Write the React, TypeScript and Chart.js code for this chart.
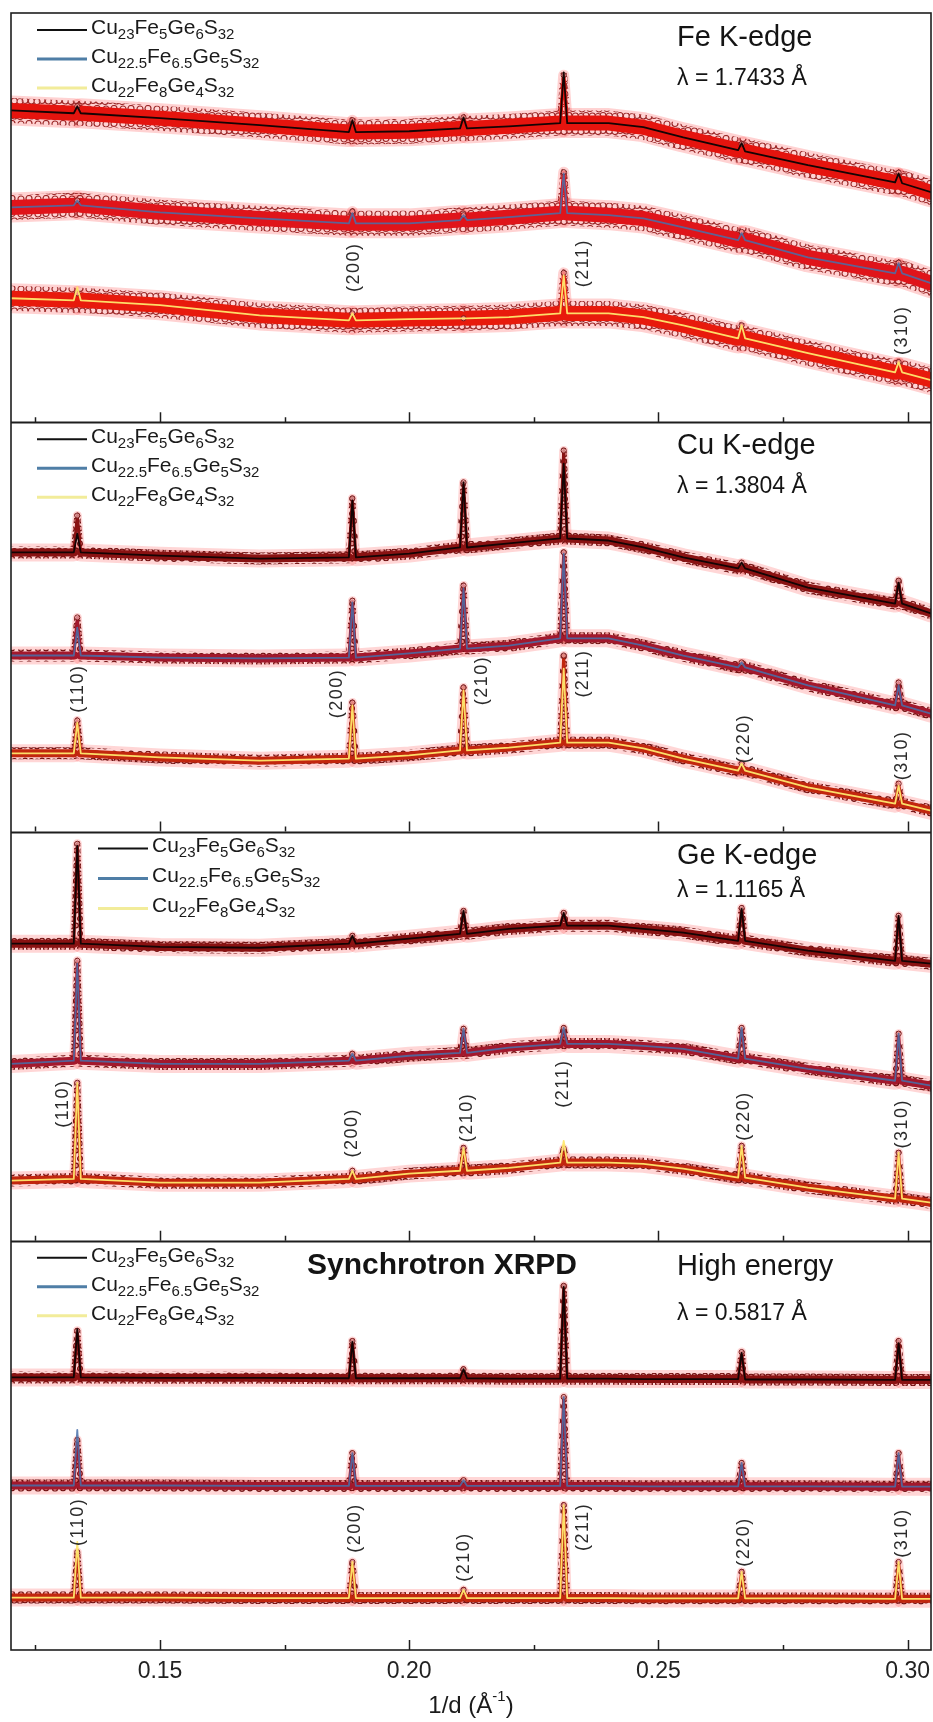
import { useEffect, useRef } from "react";
import { Chart, registerables } from "chart.js";
Chart.register(...registerables);

const FONT = '"Liberation Sans", Arial, Helvetica, sans-serif';

// 1/d grid (Å^-1): background points plus three points around every reflection
const X = [0.1201, 0.1327, 0.1334, 0.1341, 0.150, 0.170, 0.1879, 0.1886, 0.1893, 0.200, 0.2102, 0.2109, 0.2116, 0.220, 0.2303, 0.2310, 0.2317, 0.240, 0.247, 0.255, 0.2660, 0.2667, 0.2674, 0.280, 0.2975, 0.2982, 0.2989, 0.3047];
// indices of the reflection maxima in X: (110) (200) (210) (211) (220) (310)
const PEAK_INDEX = [2, 7, 11, 15, 21, 25];

const TICK_VALUES = [0.125, 0.15, 0.175, 0.2, 0.225, 0.25, 0.275, 0.3];
const TICK_LABELS = ["", "0.15", "", "0.20", "", "0.25", "", "0.30"];

const SAMPLES = [
  ["Cu", "23", "Fe", "5", "Ge", "6", "S", "32"],
  ["Cu", "22.5", "Fe", "6.5", "Ge", "5", "S", "32"],
  ["Cu", "22", "Fe", "8", "Ge", "4", "S", "32"],
];

const PANEL_TITLES = ["Fe K-edge", "Cu K-edge", "Ge K-edge", "High energy"];
const PANEL_WAVELENGTHS = ["λ = 1.7433 Å", "λ = 1.3804 Å", "λ = 1.1165 Å", "λ = 0.5817 Å"];

// intensities, in % of the panel height (calculated profile)
const feCalc1 = [76.2, 75.5, 77.2, 75.5, 74.3, 72.6, 70.9, 73.8, 70.9, 71.1, 71.8, 74.5, 71.8, 72.3, 73.1, 85.5, 73.1, 73.1, 72.1, 69.6, 66.5, 68.2, 66.2, 62.8, 58.6, 60.8, 58.4, 56.2];
const feCalc2 = [52.5, 53.0, 54.2, 53.0, 51.3, 49.8, 48.6, 51.1, 48.6, 48.6, 49.4, 50.6, 49.4, 50.1, 51.1, 60.8, 51.1, 50.6, 49.8, 47.6, 44.5, 46.2, 44.5, 40.3, 36.4, 38.9, 36.4, 34.0];
const feCalc3 = [30.3, 29.8, 33.0, 29.8, 28.6, 26.1, 24.9, 26.6, 24.9, 25.2, 25.4, 25.4, 25.4, 25.7, 26.6, 35.9, 26.6, 26.6, 25.7, 23.7, 20.5, 23.7, 20.5, 16.9, 12.2, 14.7, 12.2, 10.3];
// observed maxima of the reflections
const feObsTop1 = [77.2, 73.8, 74.5, 84.8, 68.0, 61.0];
const feObsTop2 = [54.2, 51.5, 50.6, 61.1, 46.5, 39.0];
const feObsTop3 = [31.5, 26.6, 25.4, 36.5, 23.7, 14.7];

const cuCalc1 = [68.2, 68.2, 72.8, 68.2, 67.4, 66.7, 67.0, 80.9, 67.0, 67.9, 69.4, 85.3, 69.4, 70.4, 71.6, 89.9, 71.6, 71.1, 69.4, 67.0, 64.3, 65.7, 64.3, 59.6, 55.7, 60.8, 55.7, 53.3];
const cuCalc2 = [43.0, 43.0, 49.8, 43.0, 42.5, 42.3, 42.5, 56.0, 42.5, 43.5, 44.7, 59.4, 44.7, 45.4, 47.2, 67.9, 47.2, 47.2, 45.4, 43.0, 40.1, 41.3, 40.1, 35.7, 30.8, 35.7, 30.8, 28.8];
const cuCalc3 = [19.1, 19.1, 26.6, 19.1, 18.1, 17.3, 17.8, 30.8, 17.8, 18.6, 19.8, 34.5, 19.8, 20.5, 21.7, 39.8, 21.7, 21.7, 20.3, 17.8, 14.9, 16.6, 14.9, 10.8, 6.8, 11.2, 6.8, 5.1];
const cuObsTop1 = [77.2, 81.4, 85.3, 93.1, 65.7, 61.3];
const cuObsTop2 = [52.3, 56.4, 60.1, 68.2, 41.3, 36.4];
const cuObsTop3 = [27.1, 31.5, 35.2, 43.0, 16.6, 11.7];

const geCalc1 = [72.6, 72.6, 96.5, 72.6, 71.8, 71.6, 72.6, 74.5, 72.6, 73.8, 75.0, 80.6, 75.0, 76.2, 77.0, 80.1, 77.0, 77.0, 76.2, 75.3, 73.3, 81.1, 73.3, 70.9, 68.4, 79.4, 68.4, 67.7];
const geCalc2 = [43.2, 44.0, 67.7, 44.0, 43.2, 43.2, 44.0, 45.7, 44.0, 45.2, 45.9, 51.8, 45.9, 47.2, 48.1, 52.0, 48.1, 48.1, 47.6, 46.9, 44.5, 52.0, 44.5, 42.0, 39.1, 50.6, 39.1, 37.9];
const geCalc3 = [14.7, 15.1, 38.6, 15.1, 14.2, 14.2, 15.1, 17.1, 15.1, 16.4, 17.1, 22.7, 17.1, 17.8, 19.1, 24.4, 19.1, 19.1, 18.8, 17.6, 15.4, 23.2, 15.4, 13.0, 10.3, 21.5, 10.3, 9.3];
const geObsTop1 = [97.0, 74.5, 80.6, 80.1, 81.3, 79.4];
const geObsTop2 = [68.4, 45.7, 51.8, 52.0, 52.0, 50.6];
const geObsTop3 = [38.6, 17.1, 22.7, 22.5, 23.2, 21.5];

const heCalc1 = [66.6, 66.6, 78.4, 66.6, 66.5, 66.5, 66.4, 75.3, 66.4, 66.4, 66.4, 68.6, 66.4, 66.3, 66.3, 88.7, 66.3, 66.3, 66.2, 66.2, 66.2, 72.6, 66.1, 66.1, 66.0, 75.0, 66.0, 66.0];
const heCalc2 = [40.2, 40.2, 53.8, 40.2, 40.2, 40.1, 40.1, 48.1, 40.1, 40.1, 40.1, 41.5, 40.1, 40.1, 40.1, 61.8, 40.1, 40.1, 40.0, 40.0, 40.0, 45.7, 40.0, 40.0, 39.9, 48.1, 39.9, 39.9];
const heCalc3 = [12.8, 12.8, 26.4, 12.8, 12.8, 12.7, 12.7, 21.5, 12.7, 12.7, 12.7, 14.7, 12.7, 12.7, 12.7, 35.4, 12.7, 12.7, 12.6, 12.6, 12.6, 19.1, 12.6, 12.6, 12.5, 21.5, 12.5, 12.5];
const heObsTop1 = [78.0, 75.5, 68.6, 89.0, 72.8, 75.5];
const heObsTop2 = [51.3, 48.1, 41.5, 61.8, 45.7, 48.1];
const heObsTop3 = [23.9, 21.5, 14.7, 35.4, 19.1, 21.5];

// reflection labels: [text, 1/d, height in % of panel]
const feLabels: [string, number, number][] = [["(200)", 0.1889, 37.9], ["(211)", 0.2349, 38.9], ["(310)", 0.2988, 22.5]];
const cuLabels: [string, number, number][] = [["(110)", 0.1336, 34.9], ["(200)", 0.1855, 33.7], ["(210)", 0.2147, 36.9], ["(211)", 0.2349, 38.6], ["(220)", 0.2672, 22.7], ["(310)", 0.2988, 18.6]];
const geLabels: [string, number, number][] = [["(110)", 0.1306, 33.5], ["(200)", 0.1885, 26.4], ["(210)", 0.2117, 30.1], ["(211)", 0.2309, 38.4], ["(220)", 0.2672, 30.5], ["(310)", 0.2988, 28.6]];
const heLabels: [string, number, number][] = [["(110)", 0.1336, 31.3], ["(200)", 0.1891, 29.8], ["(210)", 0.2111, 22.7], ["(211)", 0.2349, 30.1], ["(220)", 0.2672, 26.4], ["(310)", 0.2988, 28.6]];

const PANELS = [
  { calc: [feCalc1, feCalc2, feCalc3], tops: [feObsTop1, feObsTop2, feObsTop3], labels: feLabels, fe: true },
  { calc: [cuCalc1, cuCalc2, cuCalc3], tops: [cuObsTop1, cuObsTop2, cuObsTop3], labels: cuLabels, fe: false },
  { calc: [geCalc1, geCalc2, geCalc3], tops: [geObsTop1, geObsTop2, geObsTop3], labels: geLabels, fe: false },
  { calc: [heCalc1, heCalc2, heCalc3], tops: [heObsTop1, heObsTop2, heObsTop3], labels: heLabels, fe: false },
];

const TITLE_DY = [25, 24, 24, 26];
const LAMBDA_DY = [66, 64, 59, 73];

const CALC_COLORS = ["#140404", "rgba(72,112,170,0.85)", "rgba(255,232,110,0.95)"];
const LEGEND_COLORS = ["#111111", "#4f7ea6", "#f2ec9a"];
const FE_BAND = ["#e5140e", "#e0141a", "#e81a0c"];
const BAND = ["#8a1212", "#a3182c", "#c2260e"];

// segments starting at these indices rise to / fall from a reflection maximum
const PEAK_SEGMENTS = PEAK_INDEX.flatMap((i) => [i - 1, i]);

function ringPattern(ring: string, fill: string, r: number) {
  const c = document.createElement("canvas");
  c.width = 17;
  c.height = 15;
  const g = c.getContext("2d")!;
  const pts = [[4, 4], [12, 3.5], [8, 10.5], [14.3, 11], [3, 11.5]];
  g.lineWidth = 1.2;
  g.strokeStyle = ring;
  g.fillStyle = fill;
  pts.forEach(([px, py]) => {
    g.beginPath();
    g.arc(px, py, r, 0, Math.PI * 2);
    g.fill();
    g.stroke();
  });
  return g.createPattern(c, "repeat");
}

function drawFormula(ctx: CanvasRenderingContext2D, parts: string[], x: number, y: number, size: number) {
  let cx = x;
  parts.forEach((t, i) => {
    const sub = i % 2 === 1;
    ctx.font = `${sub ? Math.round(size * 0.7) : size}px ${FONT}`;
    ctx.fillText(t, cx, sub ? y + size * 0.32 : y);
    cx += ctx.measureText(t).width;
  });
}

const overlay = {
  id: "overlay",
  afterDraw(chart: any) {
    const { ctx, chartArea: a, scales } = chart;
    const xs = scales.x;
    const ys = scales.y;
    ctx.save();
    ctx.strokeStyle = "#1e1e1e";
    ctx.lineWidth = 1.6;
    ctx.strokeRect(a.left, a.top, a.right - a.left, a.bottom - a.top);
    ctx.lineWidth = 2;
    for (let b = 1; b < 4; b++) {
      const py = Math.round(ys.getPixelForValue(b * 100)) + 0.5;
      ctx.beginPath();
      ctx.moveTo(a.left, py);
      ctx.lineTo(a.right, py);
      ctx.stroke();
    }
    ctx.lineWidth = 1.5;
    for (let b = 0; b < 4; b++) {
      const py = ys.getPixelForValue(b * 100);
      TICK_VALUES.forEach((v, i) => {
        const px = Math.round(xs.getPixelForValue(v)) + 0.5;
        const len = TICK_LABELS[i] ? 10 : 5;
        ctx.beginPath();
        ctx.moveTo(px, py);
        ctx.lineTo(px, py - len);
        ctx.stroke();
      });
    }

    ctx.fillStyle = "#141414";
    ctx.textBaseline = "middle";
    PANELS.forEach((panel, p) => {
      const top = ys.getPixelForValue((4 - p) * 100);
      const off = (3 - p) * 100;
      ctx.textAlign = "left";
      ctx.fillStyle = "#141414";
      ctx.font = `29px ${FONT}`;
      ctx.fillText(PANEL_TITLES[p], 677, top + TITLE_DY[p]);
      ctx.font = `23px ${FONT}`;
      ctx.fillText(PANEL_WAVELENGTHS[p], 677, top + LAMBDA_DY[p]);
      if (p === 3) {
        ctx.font = `bold 30px ${FONT}`;
        ctx.fillText("Synchrotron XRPD", 307, top + 25);
      }
      // legend
      const lx = p === 2 ? 98 : 37;
      const rows = [17, 46, 75];
      SAMPLES.forEach((parts, s) => {
        const ry = top + rows[s] + (p === 2 ? s : 0);
        ctx.strokeStyle = LEGEND_COLORS[s];
        ctx.lineWidth = s === 0 ? 2.2 : 3;
        ctx.beginPath();
        ctx.moveTo(lx, ry);
        ctx.lineTo(lx + 50, ry);
        ctx.stroke();
        ctx.fillStyle = "#1a1a1a";
        drawFormula(ctx, parts, lx + 54, ry - 2, 21);
      });
      // reflection labels
      ctx.fillStyle = "#2a2a2a";
      ctx.font = `18px ${FONT}`;
      ctx.textAlign = "center";
      panel.labels.forEach(([t, xv, v]) => {
        ctx.save();
        (ctx as any).letterSpacing = "1.5px";
        ctx.translate(xs.getPixelForValue(xv), ys.getPixelForValue(off + v));
        ctx.rotate(-Math.PI / 2);
        ctx.fillText(t, 0, 0);
        ctx.restore();
      });
    });

    // axis title 1/d (Å^-1)
    ctx.fillStyle = "#1a1a1a";
    ctx.textAlign = "left";
    const main1 = "1/d (Å";
    const sup = "-1";
    const main2 = ")";
    ctx.font = `24px ${FONT}`;
    const w1 = ctx.measureText(main1).width;
    const w3 = ctx.measureText(main2).width;
    ctx.font = `15px ${FONT}`;
    const w2 = ctx.measureText(sup).width;
    const cx = (a.left + a.right) / 2 - (w1 + w2 + w3) / 2;
    const ty = a.bottom + 56;
    ctx.font = `24px ${FONT}`;
    ctx.fillText(main1, cx, ty);
    ctx.font = `15px ${FONT}`;
    ctx.fillText(sup, cx + w1, ty - 9);
    ctx.font = `24px ${FONT}`;
    ctx.fillText(main2, cx + w1 + w2, ty);
    ctx.restore();
  },
};

function peakWidth(narrow: number) {
  return (c: any) => (PEAK_SEGMENTS.includes(c.p0DataIndex) ? narrow : undefined);
}

export default function App() {
  const ref = useRef<HTMLCanvasElement | null>(null);
  useEffect(() => {
    if (!ref.current) return;
    const ringsFe = ringPattern("#9c2a2a", "rgba(255,215,215,0.55)", 3);
    const ringsDark = ringPattern("#701010", "rgba(210,80,80,0.5)", 2.4);
    const datasets: any[] = [];
    PANELS.forEach((panel, p) => {
      const off = (3 - p) * 100;
      panel.calc.forEach((calc, s) => {
        const calcData = X.map((x, i) => ({ x, y: off + calc[i] }));
        const obsData = X.map((x, i) => {
          const k = PEAK_INDEX.indexOf(i);
          return { x, y: off + (k >= 0 ? panel.tops[s][k] : calc[i]) };
        });
        const fe = panel.fe;
        datasets.push({
          label: `calc ${p}-${s}`,
          data: calcData,
          borderColor: CALC_COLORS[s],
          borderWidth: 1.8,
          pointRadius: 0,
          order: 0,
        });
        datasets.push({
          label: `obs ${p}-${s}`,
          data: obsData,
          borderColor: fe ? FE_BAND[s] : BAND[s],
          borderWidth: fe ? 15 : 8,
          segment: { borderWidth: peakWidth(fe ? 3.5 : 3) },
          pointRadius: (c: any) => (PEAK_INDEX.includes(c.dataIndex) ? 2.6 : 0),
          pointBorderColor: "#7a1a1a",
          pointBackgroundColor: "rgba(255,200,200,0.6)",
          pointBorderWidth: 1,
          order: 1,
        });
        datasets.push({
          label: `obs rings ${p}-${s}`,
          data: obsData,
          borderColor: fe ? ringsFe : ringsDark,
          borderWidth: fe ? 25 : 12,
          segment: { borderWidth: peakWidth(fe ? 7 : 6) },
          pointRadius: 0,
          order: 2,
        });
        datasets.push({
          label: `glow ${p}-${s}`,
          data: obsData,
          borderColor: fe ? "rgba(255,30,30,0.2)" : "rgba(255,50,50,0.2)",
          borderWidth: fe ? 30 : 18,
          segment: { borderWidth: peakWidth(fe ? 11 : 9) },
          pointRadius: 0,
          order: 3,
        });
      });
    });

    const chart = new Chart(ref.current, {
      type: "line",
      data: { datasets },
      options: {
        responsive: false,
        animation: false,
        events: [],
        layout: { padding: { left: 11, right: 2, top: 13, bottom: 0 } },
        plugins: { legend: { display: false }, tooltip: { enabled: false }, title: { display: false } },
        elements: { line: { tension: 0, borderJoinStyle: "round", borderCapStyle: "round" } },
        scales: {
          x: {
            type: "linear",
            min: 0.1201,
            max: 0.3047,
            afterBuildTicks: (scale: any) => {
              scale.ticks = TICK_VALUES.map((value) => ({ value }));
            },
            afterFit: (scale: any) => {
              scale.height = 72;
              scale.paddingLeft = 0;
              scale.paddingRight = 0;
            },
            grid: { display: false, drawTicks: false },
            border: { display: false },
            ticks: {
              autoSkip: false,
              maxRotation: 0,
              minRotation: 0,
              padding: 8,
              color: "#222",
              font: { size: 23, family: FONT },
              callback: (_v: any, i: number) => TICK_LABELS[i],
            },
          },
          y: { type: "linear", min: 0, max: 400, display: false },
        },
      },
      plugins: [overlay],
    } as any);
    return () => chart.destroy();
  }, []);
  return (
    <div style={{ position: "absolute", left: 0, top: 0, width: 933, height: 1722, background: "#fff" }}>
      <canvas ref={ref} width={933} height={1722} style={{ display: "block" }} />
    </div>
  );
}
